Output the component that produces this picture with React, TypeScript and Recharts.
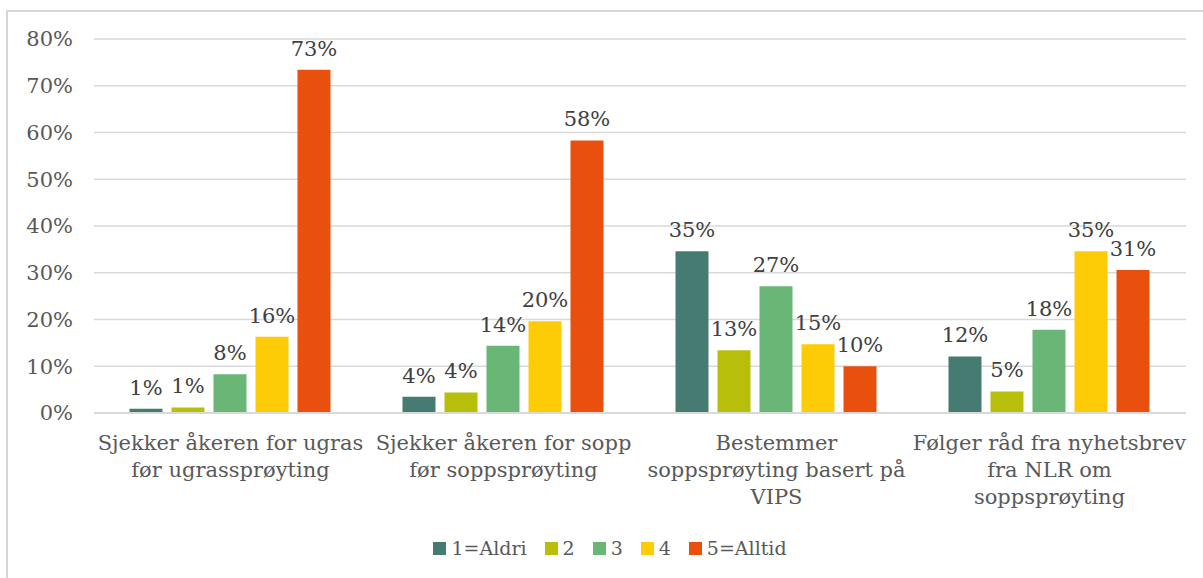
import React from "react";
import { BarChart, Bar, XAxis, YAxis, CartesianGrid, Legend, LabelList } from "recharts";

const categories = [
  "Sjekker åkeren for ugras\nfør ugrassprøyting",
  "Sjekker åkeren for sopp\nfør soppsprøyting",
  "Bestemmer\nsoppsprøyting basert på\nVIPS",
  "Følger råd fra nyhetsbrev\nfra NLR om\nsoppsprøyting",
];

const aldri = [0.9, 3.5, 34.6, 12.1];
const two = [1.2, 4.4, 13.4, 4.6];
const three = [8.3, 14.4, 27.1, 17.8];
const four = [16.3, 19.6, 14.7, 34.6];
const alltid = [73.4, 58.3, 10.0, 30.6];

const yTicks = [0, 10, 20, 30, 40, 50, 60, 70, 80];

const series = [
  { key: "s1", name: "1=Aldri", color: "#467b72", values: aldri },
  { key: "s2", name: "2", color: "#b8bf0a", values: two },
  { key: "s3", name: "3", color: "#69b676", values: three },
  { key: "s4", name: "4", color: "#fecc07", values: four },
  { key: "s5", name: "5=Alltid", color: "#e9500e", values: alltid },
];

const data = categories.map((cat, i) => {
  const row: Record<string, any> = { cat };
  series.forEach((s) => (row[s.key] = s.values[i]));
  return row;
});

const FONT = "'DejaVu Serif', serif";

function CatTick(props: any) {
  const { x, y, payload } = props;
  const lines = String(payload.value).split("\n");
  return (
    <text x={x} y={y + 37} textAnchor="middle" fill="#595959" fontSize={21} fontFamily={FONT}>
      {lines.map((l, i) => (
        <tspan key={i} x={x} dy={i === 0 ? 0 : 27}>
          {l}
        </tspan>
      ))}
    </text>
  );
}

function LegendBox() {
  return (
    <div style={{ display: "flex", justifyContent: "center", height: 30, alignItems: "center", paddingLeft: 52, fontFamily: FONT, fontSize: 19, color: "#595959" }}>
      {series.map((s) => (
        <div key={s.key} style={{ display: "flex", alignItems: "center", marginRight: 18 }}>
          <span style={{ display: "inline-block", width: 13, height: 13, background: s.color, marginRight: 5 }} />
          <span>{s.name}</span>
        </div>
      ))}
    </div>
  );
}

export default function App() {
  return (
    <div style={{ position: "absolute", left: 0, top: 0, width: 1203, height: 578, overflow: "hidden", background: "#fff" }}>
      <div style={{ position: "absolute", left: 0, top: 0 }}>
        <BarChart
          width={1203}
          height={578}
          data={data}
          margin={{ top: 39, right: 17, bottom: 15, left: 0 }}
          barCategoryGap="13%"
          barGap={9}
        >
          <CartesianGrid vertical={false} stroke="#d9d9d9" strokeWidth={1.5} />
          <XAxis
            dataKey="cat"
            height={120}
            interval={0}
            tickLine={false}
            tickSize={0}
            tickMargin={0}
            axisLine={{ stroke: "#d9d9d9", strokeWidth: 2 }}
            tick={<CatTick />}
          />
          <YAxis
            width={94}
            domain={[0, 80]}
            ticks={yTicks}
            tickFormatter={(v) => `${v}%`}
            axisLine={false}
            tickLine={false}
            tickSize={0}
            tickMargin={21}
            tick={{ fill: "#595959", fontSize: 21, fontFamily: FONT }}
          />
          <Legend verticalAlign="bottom" content={<LegendBox />} />
          {series.map((s) => (
            <Bar key={s.key} dataKey={s.key} name={s.name} fill={s.color} isAnimationActive={false}>
              <LabelList
                dataKey={s.key}
                position="top"
                offset={14}
                formatter={(v: any) => `${Math.round(Number(v))}%`}
                fill="#404040"
                fontSize={21}
                fontFamily={FONT}
              />
            </Bar>
          ))}
        </BarChart>
      </div>
      <div style={{ position: "absolute", left: 6, top: 10, width: 1210, height: 600, borderTop: "2px solid #d6d6d6", borderLeft: "2px solid #d6d6d6", pointerEvents: "none" }} />
    </div>
  );
}
